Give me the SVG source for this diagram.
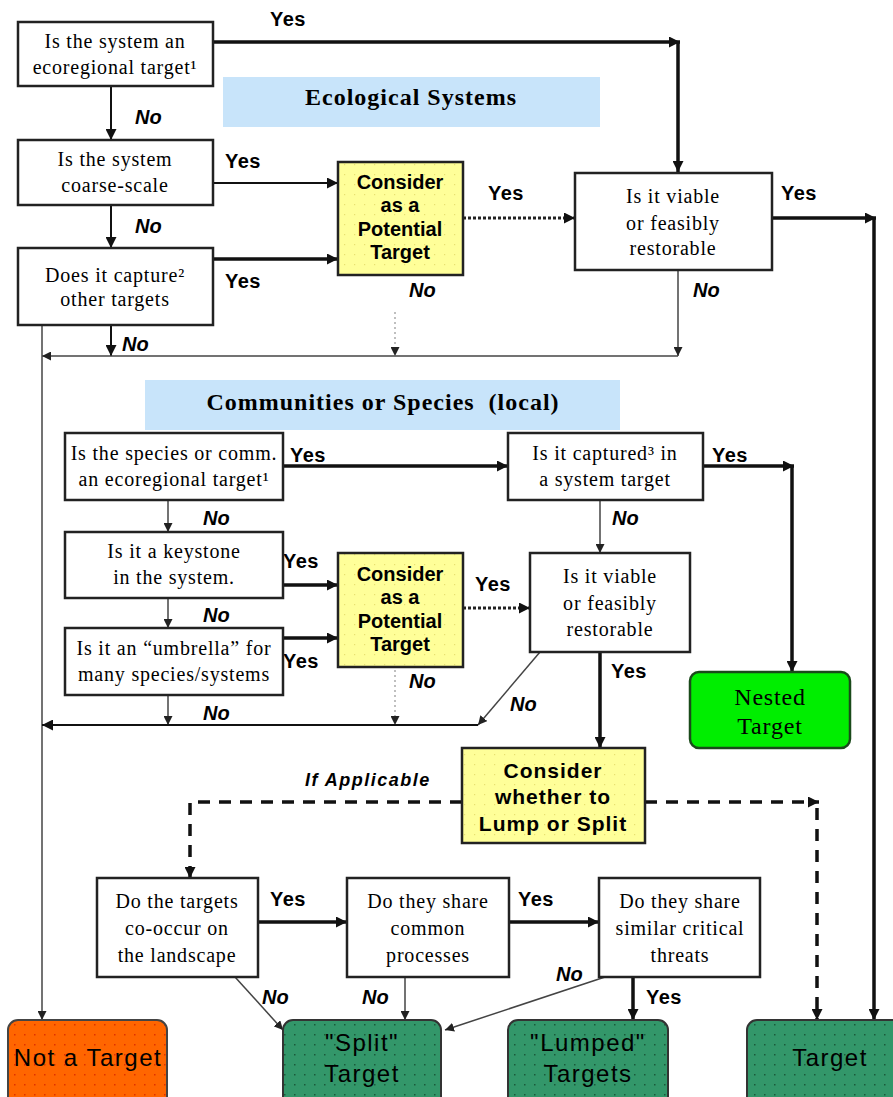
<svg xmlns="http://www.w3.org/2000/svg" width="893" height="1097" viewBox="0 0 893 1097">
<defs>
<marker id="ah" viewBox="0 0 10 10" refX="10" refY="5" markerWidth="11" markerHeight="11" markerUnits="userSpaceOnUse" orient="auto"><path d="M0,0 L10,5 L0,10 z" fill="#111"/></marker>
<marker id="ahs" viewBox="0 0 10 10" refX="10" refY="5" markerWidth="9" markerHeight="9" markerUnits="userSpaceOnUse" orient="auto"><path d="M0,0 L10,5 L0,10 z" fill="#222"/></marker>
<pattern id="dotsG" width="10" height="10" patternUnits="userSpaceOnUse"><rect width="10" height="10" fill="#33976a"/><rect x="4" y="4" width="1.5" height="1.5" fill="#1a5a3a"/></pattern>
<pattern id="dotsO" width="10" height="10" patternUnits="userSpaceOnUse"><rect width="10" height="10" fill="#ff6600"/><rect x="4" y="4" width="1.5" height="1.5" fill="#e03000"/></pattern>
<pattern id="dotsY" width="10" height="10" patternUnits="userSpaceOnUse"><rect width="10" height="10" fill="#ffff99"/><rect x="4" y="4" width="1.2" height="1.2" fill="#e8e070"/></pattern>
</defs>
<style>
.box{fill:#fff;stroke:#222;stroke-width:2.5}
.yel{fill:url(#dotsY);stroke:#222;stroke-width:2.5}
.ban{fill:#c8e4fa}
.t{font-family:"Liberation Serif",serif;font-size:20px;letter-spacing:0.8px;fill:#000;text-anchor:middle}
.bt{font-family:"Liberation Serif",serif;font-size:24px;letter-spacing:1px;font-weight:bold;fill:#000;text-anchor:middle}
.ct{font-family:"Liberation Sans",Arial,sans-serif;font-size:20px;font-weight:bold;fill:#000;text-anchor:middle}
.lt{font-family:"Liberation Sans",Arial,sans-serif;font-size:24px;letter-spacing:1.5px;fill:#000;text-anchor:middle}
.y{font-family:"Liberation Sans",Arial,sans-serif;font-size:20px;letter-spacing:0.5px;font-weight:bold;fill:#000}
.n{font-family:"Liberation Sans",Arial,sans-serif;font-size:20px;font-weight:bold;font-style:italic;fill:#000}
.c{fill:none;stroke:#111;stroke-width:2;marker-end:url(#ah)}
.ck{fill:none;stroke:#111;stroke-width:3.5;marker-end:url(#ah)}
.cg{fill:none;stroke:#444;stroke-width:1.5;marker-end:url(#ahs)}
.cd{fill:none;stroke:#222;stroke-width:3;stroke-dasharray:3,2;marker-end:url(#ah)}
.cl{fill:none;stroke:#aaa;stroke-width:1.5;stroke-dasharray:2,3;marker-end:url(#ahs)}
.cda{fill:none;stroke:#111;stroke-width:3.5;stroke-dasharray:12,9;marker-end:url(#ah)}
</style>

<g id="banner-eco"><rect class="ban" x="223" y="77" width="377" height="50"/><text class="bt" x="411" y="105">Ecological Systems</text></g>
<g id="banner-comm"><rect class="ban" x="145" y="380" width="475" height="50"/><text class="bt" x="383" y="410" xml:space="preserve">Communities or Species  (local)</text></g>

<g id="connectors">
<path class="ck" d="M213,42 H680"/>
<path class="ck" d="M678,42 V172"/>
<path class="c" d="M111,86 V140"/>
<path class="c" d="M213,183 H338"/>
<path class="c" d="M111,205 V248"/>
<path class="ck" d="M213,259 H338"/>
<path class="cd" d="M463,218 H575"/>
<path class="ck" d="M772,218 H876"/>
<path class="ck" d="M874,218 V1020"/>
<path class="cg" d="M678,270 V356"/>
<path class="cl" d="M395,312 V356"/>
<path class="c" d="M111,325 V356"/>
<path class="cg" d="M678,356 H42"/>
<path class="cg" d="M42,325 V1020"/>
<path class="ck" d="M283,466 H508"/>
<path class="ck" d="M703,466 H794"/>
<path class="ck" d="M792,466 V672"/>
<path class="cg" d="M600,500 V553"/>
<path class="cg" d="M168,500 V532"/>
<path class="ck" d="M283,585 H338"/>
<path class="cg" d="M168,598 V628"/>
<path class="ck" d="M283,638 H338"/>
<path class="cd" d="M463,608 H530"/>
<path class="ck" d="M600,652 V748"/>
<path class="cg" d="M540,652 L478,725"/>
<path class="cl" d="M395,665 V725"/>
<path class="cg" d="M168,695 V725"/>
<path class="c" d="M478,725 H42"/>
<path class="cda" d="M462,802 H190 V878"/>
<path class="cda" d="M645,802 H819"/>
<path class="cda" d="M817,808 V1020"/>
<path class="ck" d="M258,922 H347"/>
<path class="ck" d="M509,922 H599"/>
<path class="cg" d="M235,977 L283,1030"/>
<path class="cg" d="M405,977 V1020"/>
<path class="cg" d="M605,977 L445,1030"/>
<path class="ck" d="M633,977 V1020"/>
</g>

<g id="labels">
<text class="y" x="270" y="26">Yes</text>
<text class="n" x="135" y="124">No</text>
<text class="y" x="225" y="168">Yes</text>
<text class="n" x="135" y="233">No</text>
<text class="y" x="225" y="288">Yes</text>
<text class="y" x="488" y="200">Yes</text>
<text class="y" x="781" y="200">Yes</text>
<text class="n" x="409" y="297">No</text>
<text class="n" x="693" y="297">No</text>
<text class="n" x="122" y="351">No</text>
<text class="y" x="290" y="462">Yes</text>
<text class="y" x="712" y="462">Yes</text>
<text class="n" x="612" y="525">No</text>
<text class="n" x="203" y="525">No</text>
<text class="y" x="283" y="568">Yes</text>
<text class="n" x="203" y="622">No</text>
<text class="y" x="283" y="668">Yes</text>
<text class="y" x="475" y="591">Yes</text>
<text class="n" x="409" y="688">No</text>
<text class="n" x="510" y="711">No</text>
<text class="y" x="611" y="678">Yes</text>
<text class="n" x="203" y="720">No</text>
<text class="n" x="305" y="786" style="font-size:18px;letter-spacing:1.5px">If Applicable</text>
<text class="y" x="270" y="906">Yes</text>
<text class="y" x="518" y="906">Yes</text>
<text class="n" x="262" y="1004">No</text>
<text class="n" x="362" y="1004">No</text>
<text class="n" x="556" y="981">No</text>
<text class="y" x="646" y="1004">Yes</text>
</g>

<g id="q-eco-target"><rect class="box" x="18" y="22" width="195" height="64"/><text class="t" x="115" y="48">Is the system an</text><text class="t" x="115" y="74">ecoregional target¹</text></g>
<g id="q-coarse"><rect class="box" x="18" y="140" width="195" height="65"/><text class="t" x="115" y="166">Is the system</text><text class="t" x="115" y="192">coarse-scale</text></g>
<g id="q-capture"><rect class="box" x="18" y="248" width="195" height="77"/><text class="t" x="115" y="282">Does it capture²</text><text class="t" x="115" y="306">other targets</text></g>
<g id="consider-1"><rect class="yel" x="338" y="162" width="125" height="113"/><text class="ct" x="400" y="189">Consider</text><text class="ct" x="400" y="212">as a</text><text class="ct" x="400" y="236">Potential</text><text class="ct" x="400" y="259">Target</text></g>
<g id="viable-1"><rect class="box" x="575" y="173" width="197" height="97"/><text class="t" x="673" y="203">Is it viable</text><text class="t" x="673" y="230">or feasibly</text><text class="t" x="673" y="255">restorable</text></g>

<g id="q-species"><rect class="box" x="65" y="433" width="218" height="67"/><text class="t" x="174" y="460">Is the species or comm.</text><text class="t" x="174" y="486">an ecoregional target¹</text></g>
<g id="q-captured"><rect class="box" x="508" y="433" width="195" height="67"/><text class="t" x="605" y="460">Is it captured³ in</text><text class="t" x="605" y="486">a system target</text></g>
<g id="q-keystone"><rect class="box" x="65" y="532" width="218" height="66"/><text class="t" x="174" y="558">Is it a keystone</text><text class="t" x="174" y="584">in the system.</text></g>
<g id="q-umbrella"><rect class="box" x="65" y="628" width="218" height="67"/><text class="t" x="174" y="655">Is it an “umbrella” for</text><text class="t" x="174" y="681">many species/systems</text></g>
<g id="consider-2"><rect class="yel" x="338" y="553" width="125" height="114"/><text class="ct" x="400" y="581">Consider</text><text class="ct" x="400" y="604">as a</text><text class="ct" x="400" y="628">Potential</text><text class="ct" x="400" y="651">Target</text></g>
<g id="viable-2"><rect class="box" x="530" y="553" width="160" height="99"/><text class="t" x="610" y="583">Is it viable</text><text class="t" x="610" y="610">or feasibly</text><text class="t" x="610" y="636">restorable</text></g>
<g id="nested"><rect x="690" y="672" width="160" height="76" rx="9" fill="#00ee00" stroke="#1a4a1a" stroke-width="2.5"/><text class="t" x="770" y="705" style="font-size:24px">Nested</text><text class="t" x="770" y="734" style="font-size:24px">Target</text></g>
<g id="lump-split"><rect class="yel" x="462" y="748" width="183" height="95"/><text class="ct" x="553" y="778" style="font-size:21px;letter-spacing:1px">Consider</text><text class="ct" x="553" y="804" style="font-size:21px;letter-spacing:1px">whether to</text><text class="ct" x="553" y="831" style="font-size:21px;letter-spacing:1px">Lump or Split</text></g>

<g id="q-cooccur"><rect class="box" x="97" y="878" width="161" height="99"/><text class="t" x="177" y="908">Do the targets</text><text class="t" x="177" y="935">co-occur on</text><text class="t" x="177" y="962">the landscape</text></g>
<g id="q-processes"><rect class="box" x="347" y="878" width="162" height="99"/><text class="t" x="428" y="908">Do they share</text><text class="t" x="428" y="935">common</text><text class="t" x="428" y="962">processes</text></g>
<g id="q-threats"><rect class="box" x="599" y="878" width="161" height="99"/><text class="t" x="680" y="908">Do they share</text><text class="t" x="680" y="935">similar critical</text><text class="t" x="680" y="962">threats</text></g>

<g id="not-target"><rect x="8" y="1020" width="159" height="90" rx="10" fill="url(#dotsO)" stroke="#444" stroke-width="2"/><text class="lt" x="88" y="1066">Not a Target</text></g>
<g id="split-target"><rect x="283" y="1020" width="158" height="90" rx="10" fill="url(#dotsG)" stroke="#333" stroke-width="2"/><text class="lt" x="362" y="1051">"Split"</text><text class="lt" x="362" y="1082">Target</text></g>
<g id="lumped-targets"><rect x="508" y="1020" width="160" height="90" rx="10" fill="url(#dotsG)" stroke="#333" stroke-width="2"/><text class="lt" x="588" y="1051">"Lumped"</text><text class="lt" x="588" y="1082">Targets</text></g>
<g id="target"><rect x="747" y="1020" width="160" height="90" rx="10" fill="url(#dotsG)" stroke="#333" stroke-width="2"/><text class="lt" x="830" y="1066">Target</text></g>
</svg>
